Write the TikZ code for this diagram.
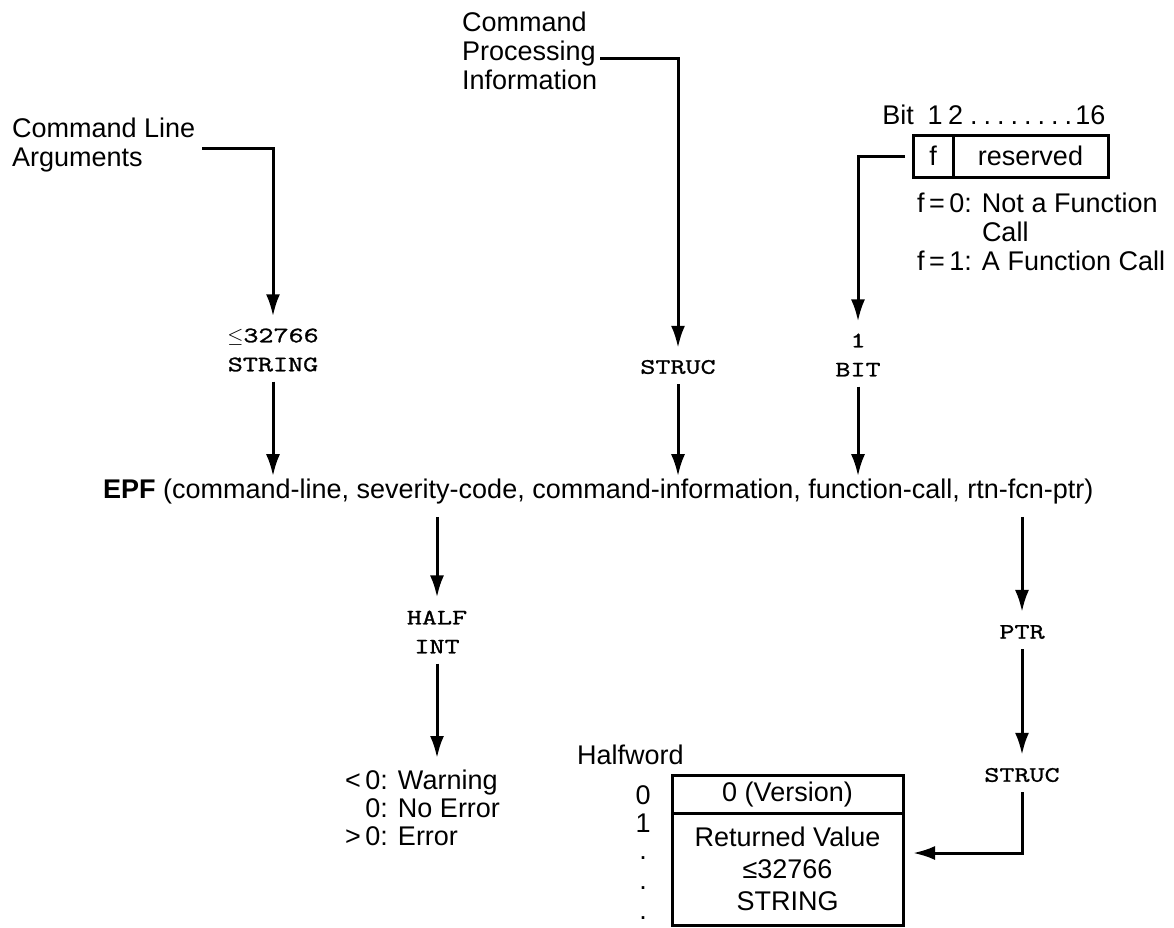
\documentclass[tikz,border=0pt]{standalone}
\usepackage{fontspec}
\setmainfont{Liberation Sans}
\newfontfamily\monof{Latin Modern Mono}[FakeStretch=1.33,FakeBold=1.2]
\usetikzlibrary{arrows.meta}
\tikzset{
  wire/.style={line width=3pt},
  arr/.style={wire, -{Latex[length=22pt,width=14pt]}},
  txt/.style={font=\fontsize{27}{29}\selectfont, inner sep=0pt, align=left},
  mono/.style={font=\fontsize{22}{29}\selectfont\monof, inner sep=0pt, align=center},
  cell/.style={draw, line width=3pt, inner sep=0pt, outer sep=0pt, font=\fontsize{27}{30}\selectfont},
}
\begin{document}
\begin{tikzpicture}[x=1pt,y=-1pt]
\useasboundingbox (0,0) rectangle (1174,927);

% ---------- Command line arguments
\node[txt, anchor=north west] (cla) at (12,118) {Command Line\\Arguments};
\coordinate (claend) at (202,148);
\node[mono] (strA) at (273,350) {$\leq$32766\\STRING};
\draw[arr, shorten >=12pt] (claend) -| (strA.north);

% ---------- Command processing information
\node[txt, anchor=north west] (cpi) at (462,12) {Command\\Processing\\Information};
\coordinate (cpiend) at (600,58);
\node[mono] (strucA) at (678,367) {STRUC};
\draw[arr, shorten >=12pt] (cpiend) -| (strucA.north);

% ---------- Bit field
\node[txt, anchor=base] (bitlbl) at (898,124) {Bit};
\node[txt, anchor=base] (bone) at (935,124) {1};
\node[txt, anchor=base west] (btwo) at (948,124) {2\hspace{7pt}.\hspace{6pt}.\hspace{6pt}.\hspace{6pt}.\hspace{6pt}.\hspace{6pt}.\hspace{6pt}.\hspace{6pt}.\hspace{3pt}16};
\node[cell, minimum width=40pt, minimum height=42pt] (fc) at (933,156) {f};
\node[cell, minimum width=155pt, minimum height=42pt, anchor=west] (rc) at (fc.east) {reserved};
\node[txt, anchor=north west] (fnote) at (917,193) {f\,=\,0: Not a Function\\\phantom{f\,=\,0: }Call\\f\,=\,1: A Function Call};
\node[mono] (bitn) at (858,355) {1\\BIT};
\draw[arr, shorten <=8pt, shorten >=12pt] (fc.west) -| (bitn.north);

% ---------- EPF call
\node[txt, anchor=west] (epf) at (103,492) {\textbf{EPF} (command-line, severity-code, command-information, function-call, rtn-fcn-ptr)};
\draw[arr, shorten <=10pt, shorten >=3pt] (strA.south) -- (strA.south |- epf.north);
\draw[arr, shorten <=10pt, shorten >=3pt] (strucA.south) -- (strucA.south |- epf.north);
\draw[arr, shorten <=10pt, shorten >=3pt] (bitn.south) -- (bitn.south |- epf.north);

% ---------- severity code
\node[mono] (half) at (437,632) {HALF\\INT};
\draw[arr, shorten <=12pt, shorten >=13pt] (half.north |- epf.south) -- (half.north);
\node[txt, anchor=north west, font=\fontsize{27}{28}\selectfont] (sev) at (345,770) {<\,0: Warning\\\phantom{<\,}0: No Error\\>\,0: Error};
\draw[arr, shorten <=10pt, shorten >=12pt] (half.south) -- (half.south |- sev.north);

% ---------- return function pointer
\node[mono] (ptr) at (1022,632) {PTR};
\draw[arr, shorten <=12pt, shorten >=13pt] (ptr.north |- epf.south) -- (ptr.north);
\node[mono] (strucB) at (1022,775) {STRUC};
\draw[arr, shorten <=10pt, shorten >=13pt] (ptr.south) -- (strucB.north);

\node[cell, minimum width=231pt, minimum height=38pt] (ver) at (787.5,794) {0 (Version)};
\node[cell, minimum width=231pt, minimum height=112pt, align=center, anchor=north, font=\fontsize{27}{32}\selectfont] (ret) at (ver.south) {Returned Value\\≤32766\\STRING};
\draw[arr, shorten <=10pt, shorten >=10pt] (strucB.south) |- ([yshift=16pt]ret.east);

\node[txt, anchor=west] (hw) at (577,755) {Halfword};
\node[txt] (h0) at (643,795) {0};
\node[txt] (h1) at (643,823) {1};
\node[txt] (d1) at (643,858) {.};
\node[txt] (d2) at (643,888) {.};
\node[txt] (d3) at (643,918) {.};
\end{tikzpicture}
\end{document}
